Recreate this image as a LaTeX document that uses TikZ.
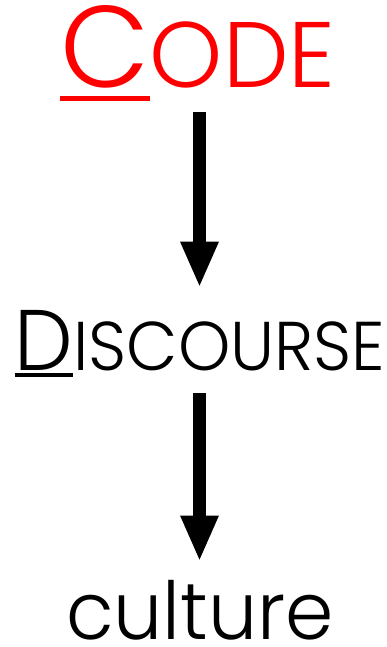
\documentclass[tikz,border=0pt]{standalone}
\usepackage{fontspec}
\IfFontExistsTF{Poppins Light}{\setmainfont{Poppins Light}}{\setmainfont{Poppins}}
\usepackage{xcolor}
\usetikzlibrary{arrows.meta}

% first letter underlined, the rest as reduced capitals
\newcommand{\capword}[6]{%
  \setbox0\hbox{\fontsize{#1}{#1}\selectfont #3}%
  \rlap{\rule[-#5]{\wd0}{#6}}\box0%
  {\fontsize{#2}{#2}\selectfont #4}}

\begin{document}
\begin{tikzpicture}[
  x=1bp, y=-1bp,
  word/.style={inner sep=0pt, anchor=base},
  arrow/.style={-{Triangle[length=46bp,width=35bp]}, line width=13.5bp},
]
\useasboundingbox (0,0) rectangle (386,647);
% the three words
\node[word, text=red] (code) at (198,88)
   {\capword{116bp}{93bp}{C}{ODE}{13bp}{5bp}};
\node[word] (discourse) at (200,370)
   {\scalebox{0.965}[1]{\capword{86bp}{69bp}{D}{ISCOURSE}{7bp}{4bp}}};
\node[word] (culture) at (200,639)
   {\scalebox{0.97}[1]{\fontsize{80bp}{80bp}\selectfont culture}};
% arrows between them
\draw[arrow, shorten <=11bp, shorten >=22bp]
   ([xshift=1.5bp]code.south) -- ([xshift=-0.5bp]discourse.north);
\draw[arrow, shorten <=16bp, shorten >=18bp]
   ([xshift=-0.5bp]discourse.south) -- ([xshift=-0.5bp]culture.north);
\end{tikzpicture}
\end{document}
